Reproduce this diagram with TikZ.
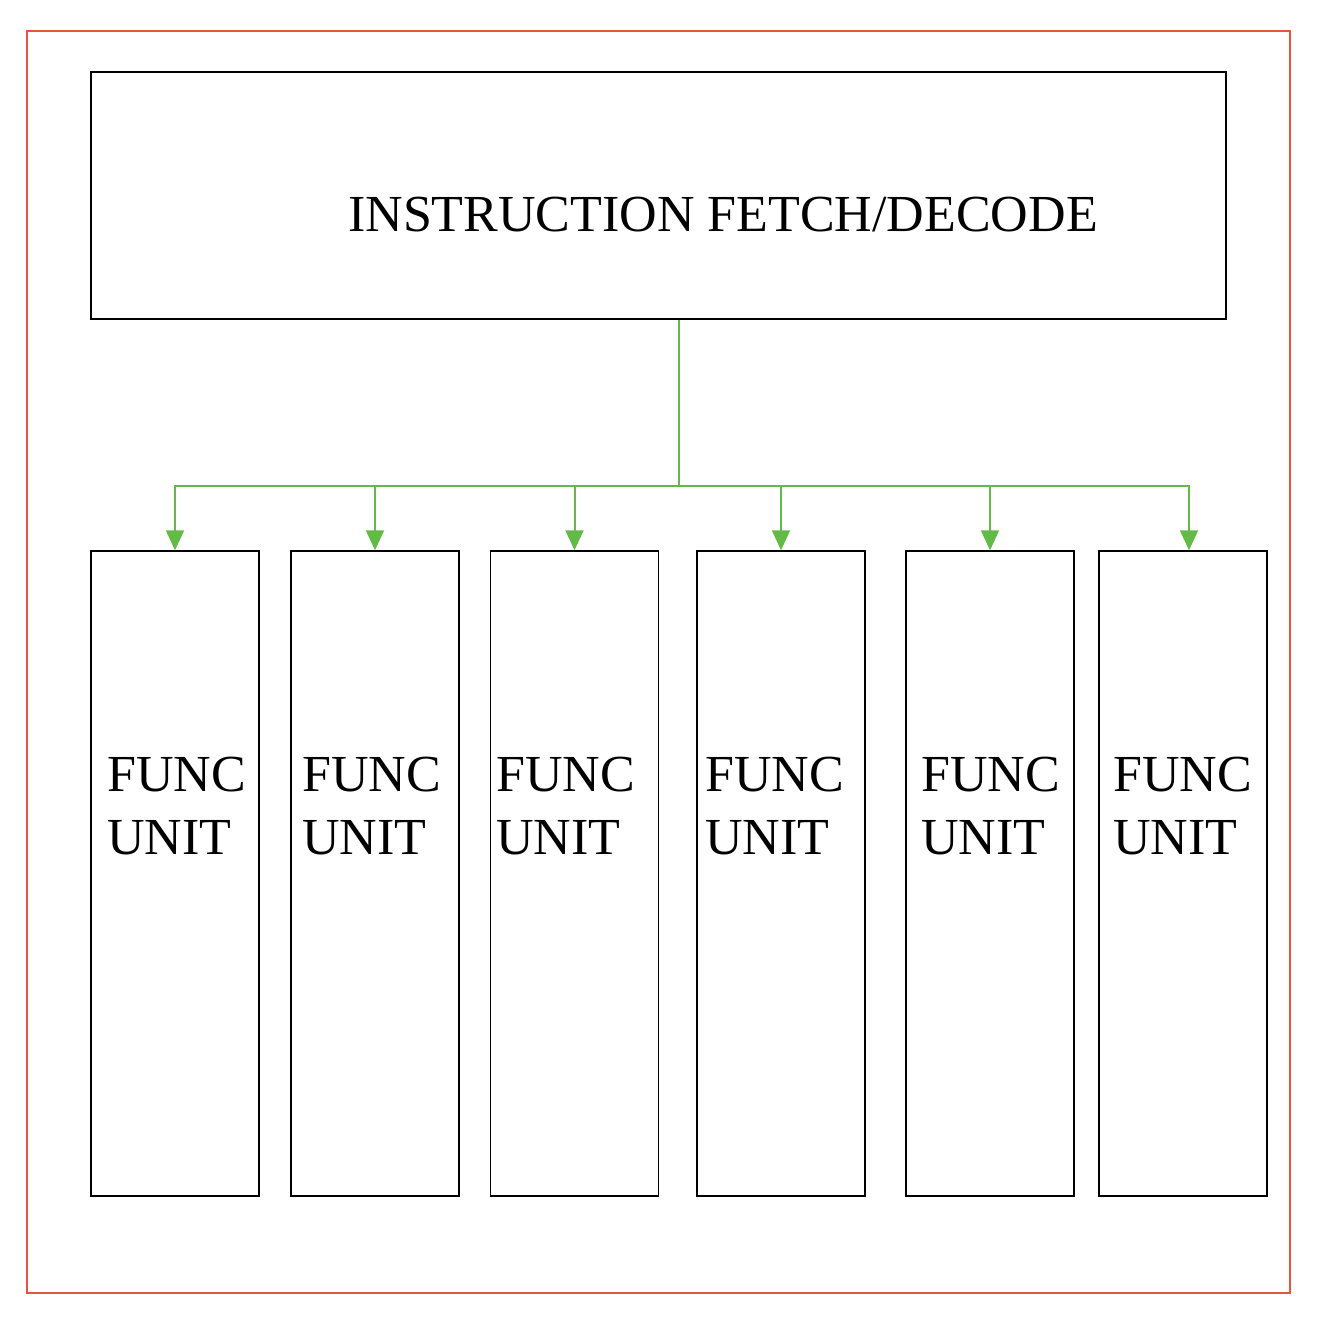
\documentclass[tikz,border=0pt]{standalone}
\usepackage{fontspec}
\setmainfont{Liberation Serif}
\usetikzlibrary{arrows.meta}
\definecolor{framered}{RGB}{232,85,62}
\definecolor{wiregreen}{RGB}{98,187,71}

\begin{document}
\begin{tikzpicture}[x=0.5pt,y=-0.5pt]
	\tikzstyle{frame} = [draw=framered, line width=0.7pt, inner sep=0pt, minimum width=631.5pt, minimum height=631pt]
	\tikzstyle{fetch} = [draw, line width=0.7pt, inner sep=0pt, minimum width=567.5pt, minimum height=123.5pt]
	\tikzstyle{unit} = [draw, line width=0.7pt, inner sep=0pt, minimum width=84pt, minimum height=322.5pt]
	\tikzstyle{label} = [inner sep=0pt, anchor=base west, align=left, font=\fontsize{26}{31.5}\selectfont]
	\tikzset{wire/.style = {draw=wiregreen, line width=1pt}}
	\tikzset{edge/.style = {wire, -{Triangle[width=9pt,length=10pt]}}}
	
	\useasboundingbox (0,0) rectangle (1324,1325);
	\node[frame](border) at (658.5,662) {};
	
	\node[fetch](fetch) at (658.5,195.5) {};
	\node[label, anchor=base](fetchtext) at (723,232) {INSTRUCTION FETCH/DECODE};
	
	\node[unit](fu1) at (175,873.5) {};
	\node[unit](fu2) at (375,873.5) {};
	\node[unit](fu3) at (574.5,873.5) {};
	\node[unit](fu4) at (781,873.5) {};
	\node[unit](fu5) at (990,873.5) {};
	\node[unit](fu6) at (1183,873.5) {};
	
	\node[label](lbl1) at (107,854) {FUNC\\UNIT};
	\node[label](lbl2) at (302,854) {FUNC\\UNIT};
	\node[label](lbl3) at (496,854) {FUNC\\UNIT};
	\node[label](lbl4) at (705,854) {FUNC\\UNIT};
	\node[label](lbl5) at (921,854) {FUNC\\UNIT};
	\node[label](lbl6) at (1113,854) {FUNC\\UNIT};
	
	\coordinate (split) at (679,486);
	\draw[wire](fetch.south -| split) to (split);
	\draw[edge](split) -| (fu1.north);
	\draw[edge](split) -| (fu2.north);
	\draw[edge](split) -| (fu3.north);
	\draw[edge](split) -| (fu4.north);
	\draw[edge](split) -| (fu5.north);
	\draw[edge](split) -| ([xshift=3pt]fu6.north);
	
\end{tikzpicture}
\end{document}
